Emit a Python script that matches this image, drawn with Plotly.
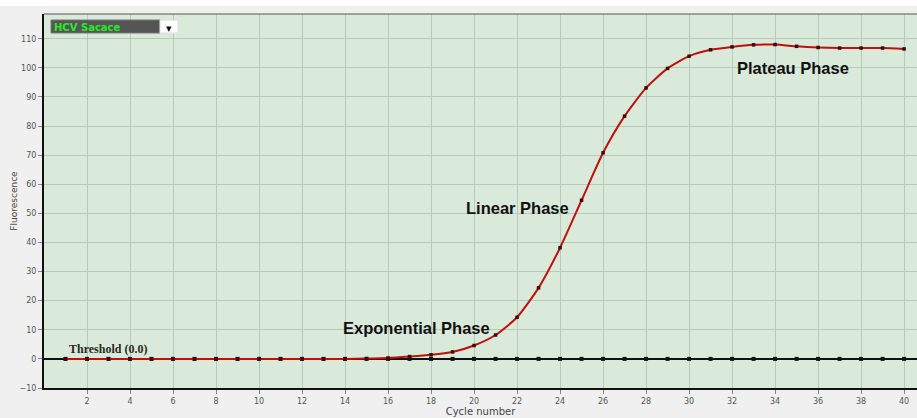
import plotly.graph_objects as go

cycles = list(range(1, 41))
fluorescence = [0.0, 0.0, 0.0, 0.0, 0.0, 0.0, 0.0, 0.0, 0.0, 0.0,
                0.0, 0.0, 0.0, 0.0, 0.1, 0.3, 0.8, 1.4, 2.4, 4.6,
                8.2, 14.3, 24.4, 38.2, 54.5, 70.8, 83.4, 93.1, 99.8, 104.0,
                106.2, 107.2, 107.9, 108.0, 107.4, 107.0, 106.8, 106.8, 106.8, 106.5]
threshold_value = 0.0
threshold = [threshold_value] * len(cycles)
x_ticks = list(range(2, 41, 2))
y_ticks = list(range(-10, 111, 10))

W, H = 917, 418
ml, mr, mt, mb = 44, 0, 14, 30
pw, ph = W - ml - mr, H - mt - mb

def px(x):
    return (x - ml) / pw

def py(y):
    return (H - mb - y) / ph

fig = go.Figure()

# threshold line (full width)
fig.add_trace(go.Scatter(
    x=[0] + cycles + [40.6], y=[threshold_value] + threshold + [threshold_value],
    mode="lines", line=dict(color="#111111", width=2), hoverinfo="skip", showlegend=False))
fig.add_trace(go.Scatter(
    x=cycles, y=threshold, mode="markers",
    marker=dict(color="#111111", size=4, symbol="square"), showlegend=False))

# amplification curve
fig.add_trace(go.Scatter(
    x=cycles, y=fluorescence, mode="lines+markers",
    line=dict(color="#c0100c", width=2, shape="spline", smoothing=0.6),
    marker=dict(color="#3a0a08", size=3.5, symbol="square"), showlegend=False))

def note(text, x, y, size, family, color, xanchor="center"):
    return dict(text=text, x=px(x), y=py(y), xref="paper", yref="paper",
                xanchor=xanchor, yanchor="middle", showarrow=False,
                font=dict(family=family, size=size, color=color))

annotations = [
    note("<b>Exponential Phase</b>", 416, 328, 16.5, "Liberation Sans, Arial", "#111"),
    note("<b>Linear Phase</b>", 517, 208, 16.5, "Liberation Sans, Arial", "#111"),
    note("<b>Plateau Phase</b>", 793, 68, 16.5, "Liberation Sans, Arial", "#111"),
    note("<b>Threshold (0.0)</b>", 67, 349, 12, "Liberation Serif, serif", "#2a2a1a", "left"),
    note("<b>HCV Sacace</b>", 52, 27, 10, "DejaVu Sans, Arial", "#22ee22", "left"),
    note("▾", 169, 28, 11, "DejaVu Sans", "#111"),
]

shapes = [
    # white strip at top
    dict(type="rect", xref="paper", yref="paper", x0=px(0), x1=px(W), y0=py(0), y1=py(6),
         fillcolor="white", line=dict(width=0), layer="below"),
    # top border
    dict(type="line", xref="paper", yref="paper", x0=0, x1=1, y0=1, y1=1,
         line=dict(color="#555555", width=1)),
    # dropdown
    dict(type="rect", xref="paper", yref="paper", x0=px(51), x1=px(160), y0=py(33), y1=py(20),
         fillcolor="#555555", line=dict(color="#777777", width=1)),
    dict(type="rect", xref="paper", yref="paper", x0=px(160), x1=px(178), y0=py(33), y1=py(20),
         fillcolor="#ffffff", line=dict(color="#dddddd", width=1)),
]

fig.update_layout(
    width=W, height=H,
    margin=dict(l=ml, r=mr, t=mt, b=mb),
    paper_bgcolor="#f0f0f0",
    plot_bgcolor="#d9eadb",
    showlegend=False,
    annotations=annotations,
    shapes=shapes,
    font=dict(family="DejaVu Sans, Verdana", color="#555555"),
    xaxis=dict(
        range=[0, 40.6], tickmode="array", tickvals=x_ticks,
        showgrid=True, gridcolor="#b8c9b8", gridwidth=1,
        showline=True, linecolor="#111111", linewidth=2,
        ticks="outside", ticklen=4, tickcolor="#888888",
        tickfont=dict(size=8, color="#555555"), zeroline=False,
        title=dict(text="Cycle number", font=dict(size=10, color="#444444"), standoff=2),
    ),
    yaxis=dict(
        range=[-10, 118.5], tickmode="array", tickvals=y_ticks,
        showgrid=True, gridcolor="#b8c9b8", gridwidth=1,
        showline=True, linecolor="#111111", linewidth=2,
        ticks="outside", ticklen=4, tickcolor="#888888",
        tickfont=dict(size=8, color="#555555"), zeroline=False,
        title=dict(text="Fluorescence", font=dict(size=9, color="#444444"), standoff=0),
    ),
)

fig.write_html("out.html")
